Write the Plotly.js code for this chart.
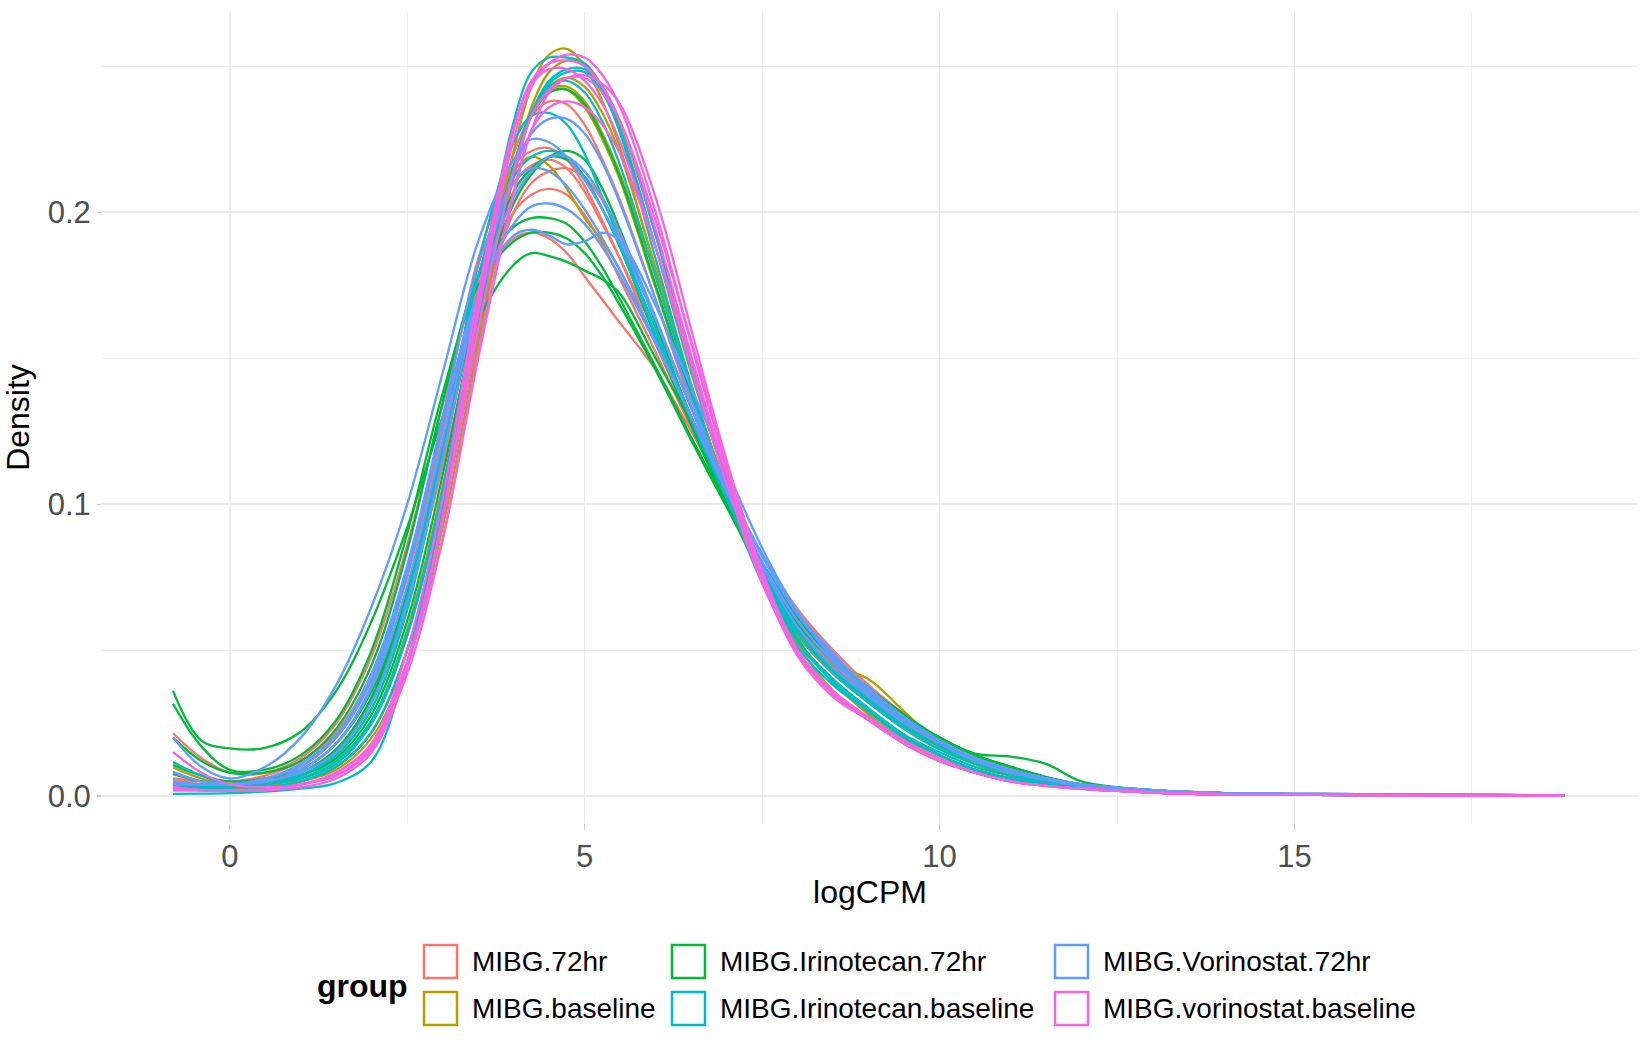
<!DOCTYPE html>
<html>
<head>
<meta charset="utf-8">
<script src="https://cdn.plot.ly/plotly-3.0.1.min.js"></script>
<style>
  body { margin: 0; background: #fff; }
  #plot { width: 1650px; height: 1050px; }
</style>
</head>
<body>
<div id="plot"></div>
<script>
var logCPM = [-0.8, -0.4, 0, 0.5, 1, 1.5, 2, 2.5, 3, 3.5,
              4, 4.25, 4.5, 4.75, 5, 5.25, 5.5,
              6, 6.5, 7, 7.5, 8, 8.5, 9, 9.5, 10, 10.5, 11, 11.5, 12, 13, 14, 16, 18.8];

var groups = ["MIBG.72hr", "MIBG.baseline", "MIBG.Irinotecan.72hr",
              "MIBG.Irinotecan.baseline", "MIBG.Vorinostat.72hr", "MIBG.vorinostat.baseline"];
var colors = ["#F8766D", "#B79F00", "#00BA38", "#00BFC4", "#619CFF", "#F564E3"];

// one row per sample
var mibg72 = [
  [.004,.003,.003,.004,.008,.016,.033,.066,.115,.172, .220,.233,.238,.237,.230,.218,.204, .170,.134,.102,.075,.055,.042,.032,.023,.016,.011,.008,.005,.0035,.0017,.0009,.0004,.0001],
  [.006,.004,.004,.006,.011,.021,.040,.075,.125,.177, .210,.216,.218,.215,.207,.196,.184, .158,.130,.105,.080,.060,.046,.035,.025,.017,.012,.008,.0055,.0035,.0017,.0009,.0004,.0001],
  [.005,.004,.004,.005,.009,.018,.036,.068,.113,.163, .200,.210,.214,.215,.212,.204,.192, .163,.133,.104,.078,.058,.044,.033,.024,.017,.012,.008,.0055,.0035,.0017,.0009,.0004,.0001],
  [.006,.005,.005,.007,.012,.022,.042,.078,.127,.174, .200,.206,.208,.206,.199,.189,.177, .152,.126,.101,.078,.059,.045,.034,.025,.018,.012,.008,.0055,.0035,.0017,.0009,.0004,.0001],
  [.0215,.013,.008,.008,.013,.025,.048,.086,.134,.175, .191,.193,.191,.186,.178,.170,.162, .146,.125,.104,.083,.064,.050,.038,.028,.019,.013,.009,.006,.004,.002,.001,.0005,.0002],
  [.004,.004,.004,.006,.010,.020,.040,.076,.128,.184, .216,.221,.222,.218,.209,.197,.184, .155,.127,.100,.076,.056,.043,.033,.024,.017,.012,.008,.005,.0035,.0017,.0009,.0004,.0001]
];
var mibgBaseline = [
  [.002,.002,.002,.003,.005,.010,.022,.050,.098,.162, .221,.243,.254,.256,.250,.238,.222, .180,.139,.104,.074,.052,.040,.030,.021,.014,.009,.006,.004,.0025,.0012,.0006,.0003,.0001],
  [.003,.002,.002,.003,.005,.009,.020,.046,.092,.155, .213,.236,.248,.252,.251,.243,.229, .188,.145,.108,.076,.052,.036,.026,.019,.013,.009,.006,.004,.0025,.0012,.0006,.0003,.0001],
  [.004,.003,.003,.004,.006,.012,.025,.055,.103,.163, .215,.234,.242,.243,.238,.227,.213, .178,.140,.106,.077,.056,.045,.040,.029,.018,.011,.007,.0045,.003,.0013,.0006,.0003,.0001],
  [.0098,.006,.004,.004,.006,.012,.026,.057,.106,.166, .216,.233,.241,.242,.236,.225,.211, .174,.137,.103,.074,.053,.039,.028,.019,.013,.009,.006,.004,.0025,.0012,.0006,.0003,.0001],
  [.003,.003,.003,.004,.007,.014,.030,.064,.118,.178, .214,.219,.216,.208,.198,.190,.180, .155,.128,.100,.075,.055,.042,.032,.023,.016,.011,.007,.0045,.003,.0014,.0007,.0003,.0001],
  [.003,.002,.002,.003,.005,.010,.022,.050,.097,.158, .212,.233,.243,.246,.243,.234,.220, .181,.141,.105,.075,.053,.039,.028,.019,.013,.009,.006,.004,.0025,.0012,.0006,.0003,.0001]
];
var irino72 = [
  [.036,.019,.0163,.0165,.022,.036,.060,.092,.130,.163, .182,.186,.185,.183,.180,.177,.172, .150,.128,.102,.080,.062,.048,.037,.028,.020,.0145,.0135,.011,.005,.002,.001,.0005,.0002],
  [.0316,.017,.009,.009,.014,.026,.050,.090,.138,.175, .190,.193,.193,.191,.186,.178,.168, .146,.122,.099,.077,.059,.046,.036,.027,.020,.014,.010,.0065,.004,.002,.001,.0005,.0002],
  [.020,.012,.008,.008,.012,.023,.045,.084,.135,.178, .195,.198,.198,.196,.190,.181,.170, .147,.123,.100,.078,.060,.047,.037,.027,.020,.014,.010,.0065,.004,.002,.001,.0005,.0002],
  [.0106,.007,.005,.006,.009,.018,.036,.070,.118,.168, .203,.213,.219,.221,.218,.208,.194, .162,.130,.104,.080,.061,.047,.036,.026,.019,.013,.009,.006,.004,.002,.001,.0005,.0002],
  [.0075,.005,.004,.005,.008,.016,.034,.070,.120,.172, .207,.215,.219,.218,.212,.201,.188, .157,.127,.100,.076,.057,.044,.034,.025,.018,.013,.009,.006,.004,.002,.001,.0005,.0002],
  [.004,.003,.003,.004,.007,.013,.028,.060,.110,.168, .216,.233,.241,.242,.237,.226,.212, .175,.137,.104,.076,.056,.043,.033,.024,.017,.012,.008,.005,.003,.0015,.0008,.0004,.0001]
];
var irinoBaseline = [
  [.0116,.007,.004,.004,.006,.011,.025,.055,.105,.172, .231,.248,.253,.253,.251,.242,.227, .184,.141,.104,.073,.051,.038,.029,.020,.014,.009,.006,.004,.0025,.0012,.0006,.0003,.0001],
  [.0046,.003,.003,.003,.005,.010,.022,.050,.097,.160, .215,.234,.244,.248,.248,.241,.228, .188,.146,.108,.076,.053,.039,.029,.020,.014,.009,.006,.004,.0025,.0012,.0006,.0003,.0001],
  [.003,.003,.003,.004,.006,.012,.026,.056,.104,.164, .216,.234,.243,.245,.241,.231,.216, .178,.139,.104,.075,.053,.040,.030,.021,.015,.010,.007,.0045,.003,.0013,.0006,.0003,.0001],
  [.004,.003,.003,.004,.007,.014,.030,.064,.118,.182, .224,.233,.234,.230,.220,.205,.190, .160,.130,.102,.076,.056,.042,.032,.023,.016,.011,.008,.005,.003,.0015,.0007,.0003,.0001],
  [.003,.003,.003,.004,.007,.015,.032,.068,.120,.178, .212,.219,.221,.219,.212,.201,.188, .158,.129,.102,.077,.057,.043,.033,.024,.017,.012,.008,.005,.003,.0015,.0007,.0003,.0001],
  [.0007,.0008,.001,.0015,.0025,.0045,.012,.046,.100,.163, .214,.234,.245,.249,.249,.243,.231, .192,.149,.110,.078,.054,.039,.029,.020,.014,.009,.006,.004,.0025,.0012,.0006,.0003,.0001]
];
var vorino72 = [
  [.0201,.010,.006,.010,.020,.038,.065,.100,.145,.190, .218,.225,.224,.219,.211,.201,.190, .163,.133,.106,.082,.062,.048,.037,.027,.019,.013,.009,.006,.004,.002,.001,.0006,.0002],
  [.008,.005,.004,.005,.009,.018,.037,.072,.122,.172, .205,.214,.219,.219,.214,.205,.193, .164,.133,.105,.080,.060,.046,.035,.026,.019,.013,.009,.006,.004,.002,.001,.0006,.0002],
  [.004,.004,.004,.006,.010,.020,.040,.078,.130,.182, .210,.215,.214,.209,.201,.191,.180, .156,.130,.104,.080,.060,.046,.035,.026,.019,.013,.009,.006,.004,.002,.001,.0006,.0002],
  [.005,.004,.004,.006,.011,.021,.042,.079,.128,.172, .196,.202,.203,.201,.196,.188,.178, .155,.130,.106,.083,.063,.049,.037,.027,.019,.013,.009,.006,.004,.002,.001,.0006,.0002],
  [.004,.004,.004,.005,.009,.018,.038,.076,.127,.172, .192,.194,.192,.189,.190,.193,.190, .168,.140,.112,.085,.063,.047,.036,.027,.019,.013,.009,.006,.004,.002,.001,.0006,.0002],
  [.0083,.005,.004,.005,.008,.015,.032,.066,.116,.172, .214,.227,.232,.232,.227,.217,.203, .170,.136,.106,.079,.058,.044,.034,.025,.018,.012,.008,.0055,.0035,.0017,.0009,.0005,.0002]
];
var vorinoBaseline = [
  [.002,.002,.002,.002,.004,.007,.016,.045,.095,.165, .225,.243,.251,.254,.253,.247,.236, .200,.155,.112,.074,.048,.034,.026,.018,.012,.008,.005,.0035,.0025,.0012,.0006,.0003,.0001],
  [.003,.002,.002,.002,.004,.008,.018,.050,.102,.172, .229,.244,.249,.249,.245,.237,.224, .188,.147,.107,.073,.049,.035,.026,.018,.012,.008,.005,.0035,.0025,.0012,.0006,.0003,.0001],
  [.015,.008,.004,.003,.004,.008,.018,.046,.088,.152, .207,.228,.236,.238,.236,.230,.220, .188,.150,.110,.076,.050,.036,.027,.019,.013,.008,.005,.0035,.0025,.0012,.0006,.0003,.0001],
  [.002,.002,.002,.002,.003,.006,.015,.044,.096,.168, .228,.245,.251,.252,.250,.243,.231, .194,.151,.110,.075,.049,.035,.026,.018,.012,.008,.005,.0035,.0025,.0012,.0006,.0003,.0001],
  [.002,.002,.002,.002,.004,.007,.017,.046,.095,.160, .214,.233,.242,.246,.246,.241,.231, .197,.156,.114,.077,.050,.035,.026,.018,.012,.008,.005,.0035,.0025,.0012,.0006,.0003,.0001],
  [.003,.002,.002,.002,.004,.007,.016,.042,.088,.150, .206,.228,.241,.246,.247,.244,.237, .205,.160,.115,.077,.050,.035,.026,.018,.012,.008,.005,.0035,.0025,.0012,.0006,.0003,.0001]
];

var samplesByGroup = [mibg72, mibgBaseline, irino72, irinoBaseline, vorino72, vorinoBaseline];

var traces = [];
samplesByGroup.forEach(function(samples, g) {
  samples.forEach(function(dens) {
    traces.push({
      x: logCPM,
      y: dens,
      type: "scatter",
      mode: "lines",
      name: groups[g],
      legendgroup: groups[g],
      showlegend: false,
      line: { color: colors[g], width: 2.3, shape: "spline", smoothing: 1 }
    });
  });
});

// page geometry (px)
var W = 1650, H = 1050;
var M = { l: 102, r: 12, t: 12, b: 227 };
var pw = W - M.l - M.r, ph = H - M.t - M.b;
function px(x) { return (x - M.l) / pw; }
function py(y) { return (H - M.b - y) / ph; }

// ggplot-style legend: 3 columns x 2 rows of outlined keys
var keyCols = [424, 672, 1055];
var keyRows = [945, 992];
var keySize = 33;

var shapes = [];
var annotations = [];
groups.forEach(function(name, g) {
  var cx = keyCols[Math.floor(g / 2)], cy = keyRows[g % 2];
  shapes.push({
    type: "rect", xref: "paper", yref: "paper",
    x0: px(cx), x1: px(cx + keySize), y0: py(cy + keySize), y1: py(cy),
    line: { color: colors[g], width: 2.5 }, fillcolor: "#ffffff"
  });
  annotations.push({
    xref: "paper", yref: "paper", x: px(cx + keySize + 13), y: py(cy + keySize / 2),
    xanchor: "left", yanchor: "middle", showarrow: false, text: name,
    font: { size: 28, color: "#000000" }
  });
});
annotations.push({
  xref: "paper", yref: "paper", x: px(410), y: py(986),
  xanchor: "right", yanchor: "middle", showarrow: false, text: "group",
  font: { size: 32, color: "#000000", weight: "bold" }
});

var grid = "#ebebeb";

var layout = {
  width: W, height: H,
  margin: M,
  paper_bgcolor: "#ffffff",
  plot_bgcolor: "#ffffff",
  font: { family: "Liberation Sans, Arial, sans-serif", color: "#4d4d4d" },
  showlegend: false,
  xaxis: {
    range: [-1.80, 19.84],
    tickmode: "linear", tick0: 0, dtick: 5,
    showgrid: true, gridcolor: grid, gridwidth: 1.6,
    minor: { dtick: 2.5, tick0: 0, showgrid: true, gridcolor: grid, gridwidth: 0.8 },
    zeroline: false, showline: false,
    ticks: "outside", ticklen: 6, tickcolor: "#cccccc", tickwidth: 1.2,
    tickfont: { size: 31, color: "#4d4d4d" },
    title: { text: "logCPM", font: { size: 32, color: "#000000" }, standoff: 4 },
    automargin: false
  },
  yaxis: {
    range: [-0.00925, 0.2686],
    tickmode: "linear", tick0: 0, dtick: 0.1, tickformat: ".1f",
    showgrid: true, gridcolor: grid, gridwidth: 1.6,
    minor: { dtick: 0.05, tick0: 0, showgrid: true, gridcolor: grid, gridwidth: 0.8 },
    zeroline: false, showline: false,
    ticks: "outside", ticklen: 4, tickcolor: "#cccccc", tickwidth: 1.2,
    tickfont: { size: 31, color: "#4d4d4d" },
    title: { text: "Density", font: { size: 32, color: "#000000" }, standoff: 10 },
    automargin: false
  },
  shapes: shapes,
  annotations: annotations
};

Plotly.newPlot("plot", traces, layout, { displayModeBar: false, staticPlot: true });
</script>
</body>
</html>
